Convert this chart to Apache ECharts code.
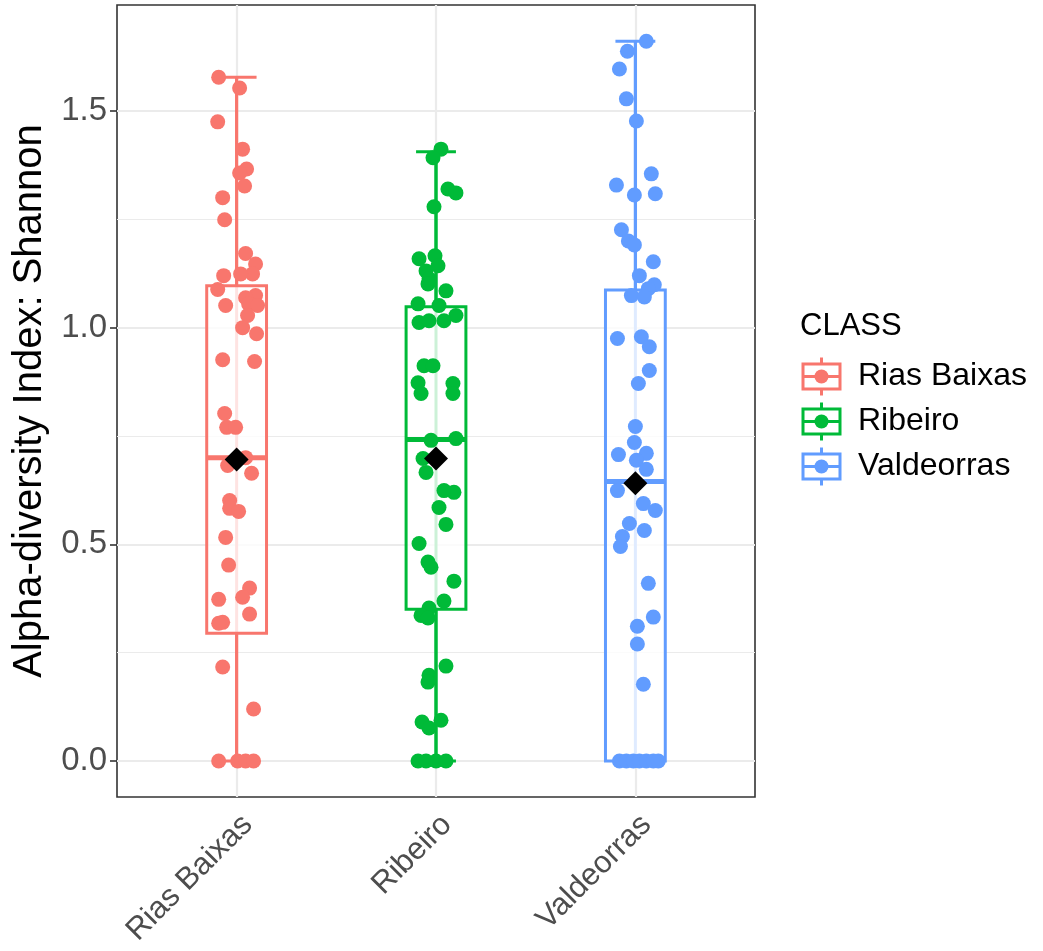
<!DOCTYPE html>
<html>
<head>
<meta charset="utf-8">
<script src="https://cdn.jsdelivr.net/npm/echarts@6/dist/echarts.min.js"></script>
<style>
  html, body { margin: 0; padding: 0; background: #ffffff; }
  #chart { width: 1043px; height: 951px; }
</style>
</head>
<body>
<div id="chart"></div>
<script>
// Wine regions and their ggplot-style hues
const classes = ['Rias Baixas', 'Ribeiro', 'Valdeorras'];
const classColors = ['#F8766D', '#00BA38', '#619CFF'];

// Shannon index per sample, with the horizontal jitter used for each point
const shannonRias = [1.578, 1.553, 1.475, 1.412, 1.366, 1.357, 1.327, 1.300, 1.249, 1.171,
  1.147, 1.124, 1.124, 1.120, 1.088, 1.074, 1.069, 1.051, 1.055, 1.051,
  1.028, 1.000, 0.986, 0.926, 0.922, 0.802, 0.770, 0.770, 0.682, 0.700,
  0.664, 0.601, 0.583, 0.576, 0.516, 0.452, 0.399, 0.378, 0.373, 0.339,
  0.320, 0.318, 0.217, 0.120, 0, 0, 0, 0];
const jitterRias = [-0.090, 0.015, -0.095, 0.030, 0.050, 0.015, 0.040, -0.070, -0.060, 0.045,
  0.095, 0.080, 0.020, -0.065, -0.095, 0.095, 0.045, -0.055, 0.060, 0.105,
  0.055, 0.030, 0.100, -0.070, 0.090, -0.060, -0.050, -0.005, -0.045, 0.045,
  0.075, -0.035, -0.035, 0.010, -0.055, -0.040, 0.065, 0.030, -0.090, 0.065,
  -0.070, -0.090, -0.070, 0.085, -0.090, 0.005, 0.045, 0.085];

const shannonRibeiro = [1.412, 1.392, 1.320, 1.311, 1.279, 1.166, 1.159, 1.143, 1.131, 1.113,
  1.101, 1.085, 1.055, 1.051, 1.028, 1.012, 1.016, 1.016, 0.912, 0.912,
  0.873, 0.848, 0.871, 0.848, 0.740, 0.744, 0.698, 0.666, 0.624, 0.620,
  0.585, 0.546, 0.502, 0.459, 0.447, 0.415, 0.369, 0.353, 0.336, 0.330,
  0.219, 0.198, 0.182, 0.090, 0.094, 0.076, 0, 0, 0, 0];
const jitterRibeiro = [0.025, -0.015, 0.060, 0.100, -0.010, -0.005, -0.085, 0.010, -0.050, -0.035,
  -0.040, 0.050, -0.090, 0.015, 0.100, -0.085, -0.035, 0.040, -0.060, -0.015,
  -0.090, -0.075, 0.085, 0.085, -0.025, 0.100, -0.065, -0.050, 0.040, 0.090,
  0.015, 0.050, -0.085, -0.040, -0.025, 0.090, 0.040, -0.035, -0.075, -0.040,
  0.050, -0.035, -0.040, -0.070, 0.025, -0.035, -0.090, -0.050, 0.000, 0.050];

const shannonValdeorras = [1.661, 1.638, 1.597, 1.528, 1.477, 1.355, 1.329, 1.306, 1.309, 1.226,
  1.200, 1.191, 1.152, 1.120, 1.099, 1.090, 1.074, 1.071, 0.975, 0.979,
  0.956, 0.901, 0.871, 0.772, 0.735, 0.707, 0.710, 0.694, 0.673, 0.624,
  0.594, 0.578, 0.548, 0.532, 0.518, 0.495, 0.410, 0.332, 0.311, 0.270,
  0.177, 0, 0, 0, 0, 0, 0, 0];
const jitterValdeorras = [0.055, -0.040, -0.080, -0.045, 0.005, 0.080, -0.095, -0.005, 0.100, -0.070,
  -0.035, -0.005, 0.090, 0.020, 0.095, 0.065, -0.020, 0.045, -0.090, 0.030,
  0.070, 0.070, 0.015, 0.000, -0.005, -0.085, 0.055, 0.005, 0.055, -0.090,
  0.040, 0.100, -0.030, 0.045, -0.065, -0.075, 0.065, 0.090, 0.010, 0.010,
  0.040, -0.080, -0.045, -0.010, 0.020, 0.055, 0.090, 0.115];

// Boxplot summaries (whisker ends, quartiles, median) and group means
const boxMin = [0, 0, 0];
const boxQ1 = [0.295, 0.350, 0];
const boxMedian = [0.700, 0.742, 0.645];
const boxQ3 = [1.097, 1.048, 1.087];
const boxMax = [1.578, 1.406, 1.661];
const classMeans = [0.696, 0.698, 0.641];

// Axis ticks
const yTicks = [0, 0.5, 1, 1.5];
const yMinorTicks = [0.25, 0.75, 1.25];
const xTicks = [1, 2, 3];

const shannonByClass = [shannonRias, shannonRibeiro, shannonValdeorras];
const jitterByClass = [jitterRias, jitterRibeiro, jitterValdeorras];

const FONT = 'Liberation Sans, Arial, sans-serif';
const BOX_HALF = 0.15;
const CAP_HALF = 0.1;
const LINE_W = 3;

// Error bar: full whisker line plus caps at both ends
function renderErrorbar(params, api) {
  const x = api.value(0), lo = api.value(1), hi = api.value(2);
  const pLo = api.coord([x, lo]);
  const pHi = api.coord([x, hi]);
  const xl = api.coord([x - CAP_HALF, hi])[0];
  const xr = api.coord([x + CAP_HALF, hi])[0];
  const st = { stroke: classColors[params.dataIndex], lineWidth: LINE_W, fill: null };
  return {
    type: 'group',
    children: [
      { type: 'line', shape: { x1: pLo[0], y1: pLo[1], x2: pHi[0], y2: pHi[1] }, style: st },
      { type: 'line', shape: { x1: xl, y1: pHi[1], x2: xr, y2: pHi[1] }, style: st },
      { type: 'line', shape: { x1: xl, y1: pLo[1], x2: xr, y2: pLo[1] }, style: st }
    ]
  };
}

// Box with semi-opaque white fill, whiskers and a thick median bar
function renderBox(params, api) {
  const x = api.value(0), q1 = api.value(1), med = api.value(2), q3 = api.value(3);
  const lo = api.value(4), hi = api.value(5);
  const stroke = classColors[params.dataIndex];
  const topLeft = api.coord([x - BOX_HALF, q3]);
  const botRight = api.coord([x + BOX_HALF, q1]);
  const m = api.coord([x, med]);
  const pLo = api.coord([x, lo]);
  const pHi = api.coord([x, hi]);
  return {
    type: 'group',
    children: [
      { type: 'line', shape: { x1: pHi[0], y1: pHi[1], x2: pHi[0], y2: topLeft[1] },
        style: { stroke: stroke, lineWidth: LINE_W } },
      { type: 'line', shape: { x1: pLo[0], y1: pLo[1], x2: pLo[0], y2: botRight[1] },
        style: { stroke: stroke, lineWidth: LINE_W } },
      { type: 'rect',
        shape: { x: topLeft[0], y: topLeft[1], width: botRight[0] - topLeft[0], height: botRight[1] - topLeft[1] },
        style: { fill: 'rgba(255,255,255,0.8)', stroke: stroke, lineWidth: LINE_W } },
      { type: 'line', shape: { x1: topLeft[0], y1: m[1], x2: botRight[0], y2: m[1] },
        style: { stroke: stroke, lineWidth: 5 } }
    ]
  };
}

const gridLines = [];
yTicks.forEach(v => gridLines.push({ yAxis: v, lineStyle: { color: '#EBEBEB', width: 2.2, type: 'solid' } }));
yMinorTicks.forEach(v => gridLines.push({ yAxis: v, lineStyle: { color: '#EBEBEB', width: 1.1, type: 'solid' } }));
xTicks.forEach(v => gridLines.push({ xAxis: v, lineStyle: { color: '#EBEBEB', width: 2.2, type: 'solid' } }));

const series = [
  {
    type: 'scatter', data: [], z: 1, silent: true,
    markLine: { z: 1, silent: true, symbol: ['none', 'none'], label: { show: false },
      animation: false, data: gridLines }
  },
  {
    type: 'custom', z: 2, renderItem: renderErrorbar,
    data: classes.map((c, i) => [i + 1, boxMin[i], boxMax[i]])
  },
  {
    type: 'custom', z: 3, renderItem: renderBox,
    data: classes.map((c, i) => [i + 1, boxQ1[i], boxMedian[i], boxQ3[i], boxMin[i], boxMax[i]])
  }
];

classes.forEach((c, i) => {
  series.push({
    type: 'scatter', name: c, z: 4,
    symbol: 'circle', symbolSize: 15,
    itemStyle: { color: classColors[i], opacity: 1 },
    data: shannonByClass[i].map((v, j) => [i + 1 + jitterByClass[i][j], v])
  });
});

series.push({
  type: 'scatter', z: 6, symbol: 'diamond', symbolSize: 24,
  itemStyle: { color: '#000000', opacity: 1 },
  data: classMeans.map((m, i) => [i + 1, m])
});

// Legend keys drawn as miniature boxplots
const legendGraphics = [
  { type: 'text', left: 800, top: 311, style: { text: 'CLASS', fontSize: 31, fontFamily: FONT, fill: '#000000' } }
];
classes.forEach((c, i) => {
  const cy = 376.5 + i * 45;
  const cx = 821.5;
  const col = classColors[i];
  legendGraphics.push(
    { type: 'line', shape: { x1: cx, y1: cy - 19, x2: cx, y2: cy + 19 }, style: { stroke: col, lineWidth: LINE_W } },
    { type: 'rect', shape: { x: cx - 18.5, y: cy - 12.5, width: 37, height: 25 },
      style: { fill: '#ffffff', stroke: col, lineWidth: LINE_W } },
    { type: 'line', shape: { x1: cx - 18.5, y1: cy, x2: cx + 18.5, y2: cy }, style: { stroke: col, lineWidth: LINE_W } },
    { type: 'circle', shape: { cx: cx, cy: cy, r: 7 }, style: { fill: col } },
    { type: 'text', x: 858, y: cy, style: { text: c, fontSize: 32, fontFamily: FONT, fill: '#000000', verticalAlign: 'middle' } }
  );
});

const chart = echarts.init(document.getElementById('chart'), null, { renderer: 'canvas' });
chart.setOption({
  animation: false,
  backgroundColor: '#ffffff',
  grid: {
    left: 117, top: 5, width: 638, height: 792, outerBoundsMode: 'none', containLabel: false,
    show: true, borderColor: '#333333', borderWidth: 1.6, backgroundColor: 'transparent'
  },
  xAxis: {
    type: 'value', min: 0.4, max: 3.6,
    axisLine: { show: false },
    splitLine: { show: false },
    axisTick: { show: true, customValues: xTicks, length: 7, lineStyle: { color: '#333333', width: 1.6 } },
    axisLabel: {
      customValues: xTicks, rotate: 45, margin: 12, verticalAlign: 'top',
      fontSize: 31, fontFamily: FONT, color: '#4D4D4D',
      formatter: v => classes[Math.round(v) - 1] || ''
    }
  },
  yAxis: {
    type: 'value', min: -0.0831, max: 1.7446,
    name: 'Alpha-diversity Index: Shannon', nameLocation: 'middle', nameGap: 63,
    nameTextStyle: { fontSize: 40, fontFamily: FONT, color: '#000000' },
    axisLine: { show: false },
    splitLine: { show: false },
    axisTick: { show: true, customValues: yTicks, length: 7, lineStyle: { color: '#333333', width: 1.6 } },
    axisLabel: {
      customValues: yTicks, margin: 10,
      fontSize: 33, fontFamily: FONT, color: '#4D4D4D',
      formatter: v => v.toFixed(1)
    }
  },
  graphic: legendGraphics,
  series: series
});
</script>
</body>
</html>
